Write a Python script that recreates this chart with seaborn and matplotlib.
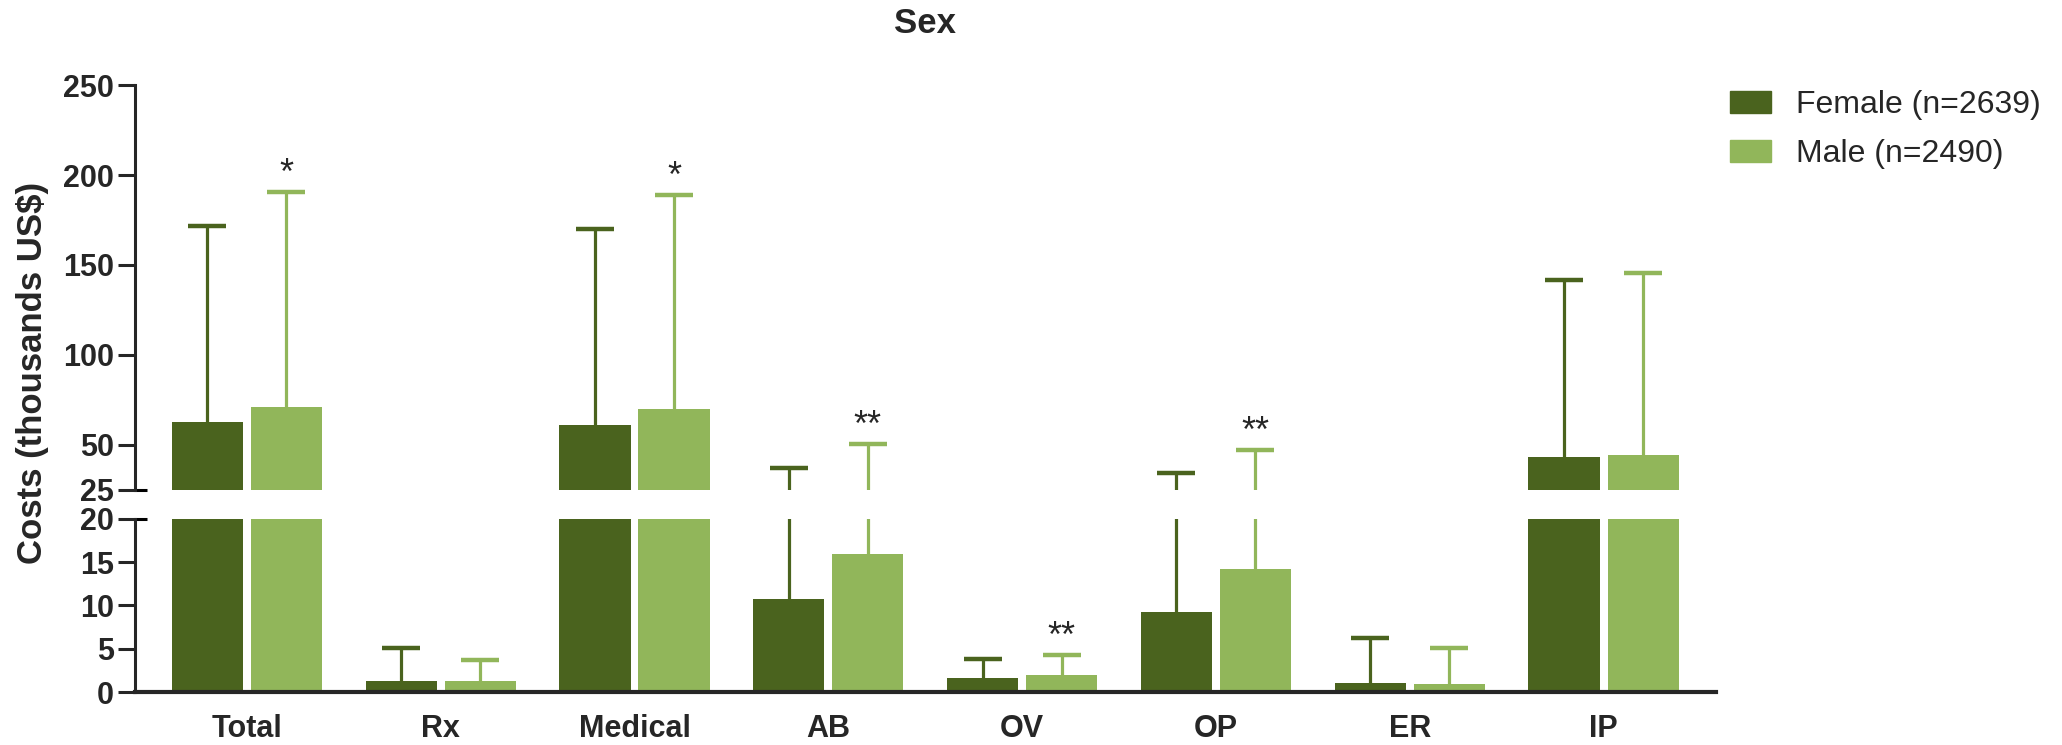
import numpy as np
import pandas as pd
import matplotlib
matplotlib.use("Agg")
import matplotlib.pyplot as plt
import seaborn as sns

# values (thousands US$)
categories = ["Total", "Rx", "Medical", "AB", "OV", "OP", "ER", "IP"]
female_mean = [63.0, 1.3, 61.3, 10.7, 1.6, 9.2, 1.1, 43.5]
female_upper = [171.5, 5.1, 170.0, 37.0, 3.8, 34.6, 6.3, 141.7]
male_mean = [71.0, 1.3, 70.0, 15.9, 2.0, 14.2, 0.95, 44.4]
male_upper = [190.5, 3.7, 189.0, 50.3, 4.3, 47.2, 5.1, 145.3]
male_sig = ["*", "", "*", "**", "**", "**", "", ""]
groups = ["Female (n=2639)", "Male (n=2490)"]
colors = ["#4a631e", "#91b65a"]

sns.set_style("white")
plt.rcParams["font.family"] = ["Liberation Sans", "DejaVu Sans"]

df = pd.DataFrame({
    "category": categories * 2,
    "sex": [groups[0]] * len(categories) + [groups[1]] * len(categories),
    "cost": female_mean + male_mean,
})

fig = plt.figure(figsize=(20.62, 7.45), dpi=100)
ax_top = fig.add_axes([0.0655, 0.3423, 0.7667, 0.5436])
ax_bot = fig.add_axes([0.0655, 0.0711, 0.7667, 0.2323])


def draw_bars(ax):
    sns.barplot(data=df, x="category", y="cost", hue="sex", palette=colors,
                width=0.816, gap=0.1, errorbar=None, saturation=1,
                linewidth=0, legend=False, ax=ax)
    for cont, upper, col in zip(ax.containers, [female_upper, male_upper], colors):
        xs = np.array([b.get_x() + b.get_width() / 2 for b in cont])
        hs = np.array([b.get_height() for b in cont])
        err = np.array(upper) - hs
        _, caps, _ = ax.errorbar(xs, hs, yerr=[np.zeros_like(err), err], fmt="none",
                                 ecolor=col, elinewidth=2.3, capsize=13.5,
                                 capthick=3.2, zorder=3)
        # keep only the upper caps
        for cl in caps:
            if np.allclose(cl.get_ydata(), hs):
                cl.set_visible(False)
    ax.set_xlim(-0.577, 7.58)
    ax.set_xlabel("")
    ax.set_ylabel("")
    ax.tick_params(axis="y", direction="out", length=12, width=2.2, pad=3,
                   labelsize=22, left=True)
    ax.spines["left"].set_linewidth(2.2)
    ax.spines["right"].set_visible(False)
    ax.spines["top"].set_visible(False)


draw_bars(ax_top)
draw_bars(ax_bot)

ax_top.set_ylim(25, 250)
ax_top.set_yticks([25, 50, 100, 150, 200, 250])
ax_top.spines["bottom"].set_visible(False)
ax_top.tick_params(axis="x", bottom=False, labelbottom=False)

ax_bot.set_ylim(0, 20)
ax_bot.set_yticks([0, 5, 10, 15, 20])
ax_bot.spines["bottom"].set_linewidth(3)
ax_bot.tick_params(axis="x", length=0, pad=16, labelsize=22)
for lab in ax_bot.get_xticklabels() + ax_bot.get_yticklabels() + ax_top.get_yticklabels():
    lab.set_fontweight("bold")

# break marks crossing the spine
for ax, yv in [(ax_top, 25), (ax_bot, 20)]:
    ax.plot([0, 0.0078], [yv, yv], transform=ax.get_yaxis_transform(),
            color="black", lw=2.2, clip_on=False, solid_capstyle="butt")

# significance marks above the male bars
male_x = [b.get_x() + b.get_width() / 2 for b in ax_top.containers[1]]
for x, up, s in zip(male_x, male_upper, male_sig):
    if not s:
        continue
    ax = ax_top if up > 25 else ax_bot
    ax.annotate(s, (x, up), xytext=(0, 6), textcoords="offset points",
                ha="center", va="baseline", fontsize=26)

fig.text(0.4488, 0.969, "Sex", ha="center", va="center", fontsize=25,
         fontweight="bold")
fig.text(0.016, 0.5, "Costs (thousands US$)", rotation=90, ha="center",
         va="center", fontsize=25, fontweight="bold")

handles = [plt.Rectangle((0, 0), 1, 1, color=c) for c in colors]
fig.legend(handles, groups, loc="upper left", bbox_to_anchor=(0.839, 0.879),
           frameon=False, fontsize=23, handlelength=1.28, handleheight=0.69,
           handletextpad=0.8, labelspacing=0.6, borderpad=0, borderaxespad=0)

fig.savefig("out.png", dpi=100)
